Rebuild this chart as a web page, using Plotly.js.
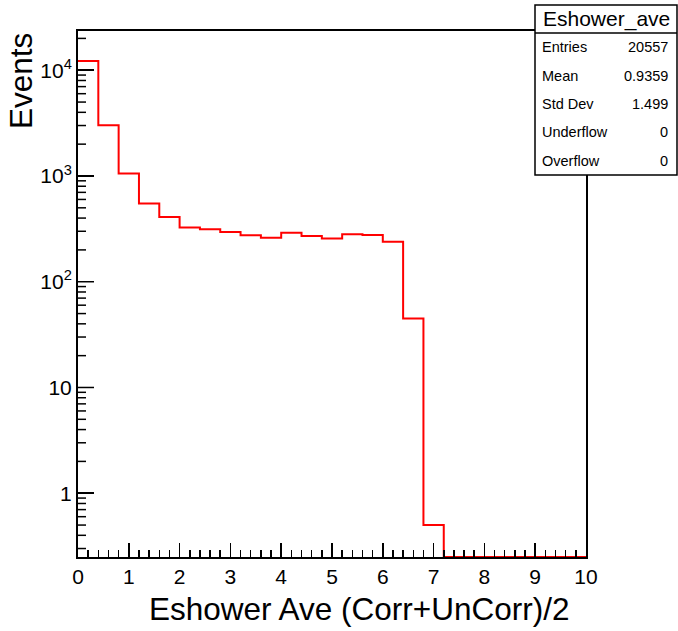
<!DOCTYPE html>
<html>
<head>
<meta charset="utf-8">
<script src="https://cdn.plot.ly/plotly-3.0.1.min.js"></script>
<style>
html,body{margin:0;padding:0;background:#fff;}
#chart{width:678px;height:631px;}
</style>
</head>
<body>
<div id="chart"></div>
<script>
// ---- data ----
const binEdges = [0,0.4,0.8,1.2,1.6,2.0,2.4,2.8,3.2,3.6,4.0,4.4,4.8,5.2,5.6,6.0,6.4,6.8,7.2,7.6,8.0,8.4,8.8,9.2,9.6,10.0];
const binCounts = [12250,3020,1054,548,409,325,313,295,275,261,291,270,256,281,277,239,45,0.5,0,0,0,0,0,0,0];
const yMajorVals = [1, 10, 100, 1000, 10000];
const yMajorText = ["1", "10", "10<sup>2</sup>", "10<sup>3</sup>", "10<sup>4</sup>"];
const statsTitle = "Eshower_ave";
const statsLabels = ["Entries","Mean","Std Dev","Underflow","Overflow"];
const statsValues = ["20557","0.9359","1.499","0","0"];
const xTitle = "Eshower Ave (Corr+UnCorr)/2";
const yTitle = "Events";

// ---- layout geometry ----
const W = 678, H = 631;
const mL = 78, mR = 92, mT = 31, mB = 74;
const pw = W - mL - mR, ph = H - mT - mB;
const px = x => (x - mL) / pw;
const py = y => (H - mB - y) / ph;
const xMin = 0, xMax = 10;
const yLogMin = -0.603, yLogMax = 4.371;
const FONT = "Liberation Sans, Arial, Helvetica, sans-serif";

// histogram as step line; empty bins drawn at the axis floor (as ROOT does)
const floorVal = Math.pow(10, yLogMin);
const stepY = binCounts.map(v => v > 0 ? v : floorVal);
stepY.push(stepY[stepY.length - 1]);

const trace = {
  x: binEdges,
  y: stepY,
  type: 'scatter',
  mode: 'lines',
  line: {shape: 'hv', color: '#ff0000', width: 2},
  hoverinfo: 'skip'
};

// log-axis tick marks (long at decades, short at 2..9 x decade), inside the left axis
const tickX = [], tickY = [];
const xPerPx = (xMax - xMin) / pw;
for (let d = Math.floor(yLogMin); d <= Math.ceil(yLogMax); d++) {
  for (let k = 1; k <= 9; k++) {
    const v = k * Math.pow(10, d);
    const lv = Math.log10(v);
    if (lv > yLogMin && lv < yLogMax) {
      const len = (k === 1) ? 16 : 8;
      tickX.push(xMin, xMin + len * xPerPx, null);
      tickY.push(v, v, null);
    }
  }
}
const tickTrace = {
  x: tickX, y: tickY, type: 'scatter', mode: 'lines',
  line: {color: 'black', width: 1.5}, connectgaps: false, hoverinfo: 'skip'
};

// stats box
const bx0 = 535, bx1 = 677, by0 = 5, by1 = 175, bsep = 33;
const rowH = (by1 - bsep) / statsLabels.length;
const shapes = [
  {type:'rect', xref:'paper', yref:'paper', x0:px(bx0), x1:px(bx1), y0:py(by1), y1:py(by0),
   line:{color:'black', width:1.5}, fillcolor:'white', layer:'above'},
  {type:'line', xref:'paper', yref:'paper', x0:px(bx0), x1:px(bx1), y0:py(bsep), y1:py(bsep),
   line:{color:'black', width:1.5}, layer:'above'}
];

const annotations = [
  {text: statsTitle, xref:'paper', yref:'paper', x:px((bx0+bx1)/2), y:py((by0+bsep)/2),
   xanchor:'center', yanchor:'middle', showarrow:false, font:{family:FONT, size:21, color:'black'}},
  {text: xTitle, xref:'paper', yref:'paper', x:px(571), y:py(609), xanchor:'right', yanchor:'middle',
   showarrow:false, font:{family:FONT, size:31.5, color:'black'}},
  {text: yTitle, xref:'paper', yref:'paper', x:px(21), y:py(81), xanchor:'center', yanchor:'middle',
   textangle:-90, showarrow:false, font:{family:FONT, size:31.5, color:'black'}}
];
statsLabels.forEach((lab, i) => {
  const yc = bsep + rowH * (i + 0.5);
  annotations.push({text: lab, xref:'paper', yref:'paper', x:px(540), y:py(yc), xanchor:'left', yanchor:'middle',
    showarrow:false, font:{family:FONT, size:14.5, color:'black'}});
  annotations.push({text: statsValues[i], xref:'paper', yref:'paper', x:px(670), y:py(yc), xanchor:'right', yanchor:'middle',
    showarrow:false, font:{family:FONT, size:14.5, color:'black'}});
});

const layout = {
  width: W, height: H,
  margin: {l: mL, r: mR, t: mT, b: mB, pad: 0},
  paper_bgcolor: 'white', plot_bgcolor: 'white',
  showlegend: false,
  font: {family: FONT, color: 'black'},
  xaxis: {
    range: [xMin, xMax], tickmode: 'linear', tick0: 0, dtick: 1,
    ticks: 'inside', ticklen: 14, tickwidth: 1.5, tickcolor: 'black',
    minor: {ticks: 'inside', ticklen: 7, tickwidth: 1.5, tickcolor: 'black', dtick: 0.2, showgrid: false},
    showline: true, linecolor: 'black', linewidth: 2, mirror: true,
    showgrid: false, zeroline: false,
    tickfont: {family: FONT, size: 21, color: 'black'}
  },
  yaxis: {
    type: 'log', range: [yLogMin, yLogMax],
    tickmode: 'array', tickvals: yMajorVals, ticktext: yMajorText,
    ticks: 'inside', ticklen: 16, tickwidth: 1.5, tickcolor: 'black',
    showline: true, linecolor: 'black', linewidth: 2, mirror: true,
    showgrid: false, zeroline: false,
    tickfont: {family: FONT, size: 21, color: 'black'}
  },
  shapes: shapes,
  annotations: annotations
};

Plotly.newPlot('chart', [trace, tickTrace], layout, {staticPlot: true, displayModeBar: false});
</script>
</body>
</html>
